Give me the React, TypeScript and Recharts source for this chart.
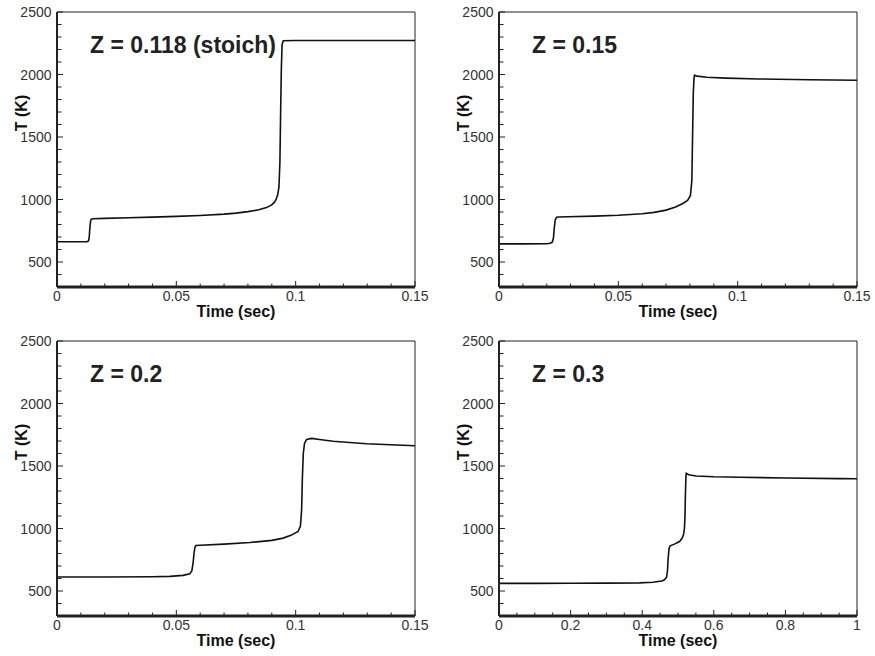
import React from "react";
import { LineChart, Line, XAxis, YAxis, ReferenceLine } from "recharts";

// ---------- Data ----------
const z0118Time = [0, 0.005, 0.01, 0.0125, 0.013, 0.0133, 0.0135, 0.0138, 0.0141, 0.0144, 0.015, 0.02, 0.03, 0.04, 0.05, 0.06, 0.07, 0.075, 0.08, 0.0845, 0.0878, 0.0898, 0.091, 0.0918, 0.0925, 0.093, 0.0934, 0.0937, 0.094, 0.0943, 0.0948, 0.1, 0.15];
const z0118Temp = [662, 662, 662, 663, 666, 675, 700, 780, 830, 843, 846, 849, 854, 859, 865, 872, 883, 891, 903, 918, 935, 955, 975, 1000, 1040, 1100, 1300, 1700, 2050, 2238, 2270, 2272, 2272];

const z015Time = [0, 0.01, 0.02, 0.0215, 0.0223, 0.0228, 0.0232, 0.0236, 0.0242, 0.025, 0.0289, 0.04, 0.05, 0.06, 0.065, 0.07, 0.074, 0.077, 0.079, 0.0802, 0.0808, 0.0811, 0.0814, 0.0817, 0.0819, 0.083, 0.087, 0.0952, 0.109, 0.13, 0.15];
const z015Temp = [645, 645, 646, 650, 658, 690, 780, 840, 858, 860, 862, 867, 874, 886, 897, 915, 940, 968, 993, 1030, 1150, 1500, 1850, 1970, 1993, 1987, 1978, 1971, 1964, 1958, 1954];

const z02Time = [0, 0.02, 0.04, 0.0473, 0.0528, 0.0556, 0.0565, 0.057, 0.0574, 0.0578, 0.0582, 0.06, 0.07, 0.0808, 0.09, 0.0948, 0.098, 0.101, 0.102, 0.1025, 0.1028, 0.1032, 0.1037, 0.1046, 0.1067, 0.11, 0.1157, 0.1297, 0.15];
const z02Temp = [612, 612, 614, 617, 625, 638, 660, 720, 800, 850, 864, 866, 875, 888, 905, 923, 945, 976, 1020, 1150, 1400, 1600, 1680, 1713, 1721, 1712, 1698, 1678, 1662];

const z03Time = [0, 0.1, 0.2, 0.3, 0.3926, 0.43, 0.455, 0.4623, 0.468, 0.4705, 0.4725, 0.475, 0.478, 0.49, 0.5042, 0.511, 0.5153, 0.518, 0.5195, 0.5205, 0.522, 0.523, 0.53, 0.5508, 0.6, 0.6716, 0.8, 0.9506, 1];
const z03Temp = [561, 561, 562, 563, 565, 570, 580, 590, 610, 660, 760, 840, 861, 875, 896, 920, 949, 1000, 1100, 1250, 1400, 1442, 1430, 1420, 1414, 1410, 1404, 1399, 1398];

// ---------- Ticks ----------
const tempTicksAll = [400, 500, 600, 700, 800, 900, 1000, 1100, 1200, 1300, 1400, 1500, 1600, 1700, 1800, 1900, 2000, 2100, 2200, 2300, 2400, 2500];
const tempTicksMajor = [500, 1000, 1500, 2000, 2500];
const tempTickLabels = ["500", "1000", "1500", "2000", "2500"];

const shortTimeTicksAll = [0, 0.01, 0.02, 0.03, 0.04, 0.05, 0.06, 0.07, 0.08, 0.09, 0.1, 0.11, 0.12, 0.13, 0.14, 0.15];
const shortTimeMajor = [0, 0.05, 0.1, 0.15];
const shortTimeLabels = ["0", "0.05", "0.1", "0.15"];

const longTimeTicksAll = [0, 0.05, 0.1, 0.15, 0.2, 0.25, 0.3, 0.35, 0.4, 0.45, 0.5, 0.55, 0.6, 0.65, 0.7, 0.75, 0.8, 0.85, 0.9, 0.95, 1];
const longTimeMajor = [0, 0.2, 0.4, 0.6, 0.8, 1];
const longTimeLabels = ["0", "0.2", "0.4", "0.6", "0.8", "1"];

const panelTitles = ["Z = 0.118 (stoich)", "Z = 0.15", "Z = 0.2", "Z = 0.3"];

const FONT = "'Liberation Sans', Arial, Helvetica, sans-serif";
const W = 440;
const H = 328;

function zip(ts: number[], vs: number[]) {
  return ts.map((t, i) => ({ t, T: vs[i] }));
}

function findMajor(v: number, majors: number[], labels: string[]) {
  for (let i = 0; i < majors.length; i++) {
    if (Math.abs(majors[i] - v) < 1e-9) return labels[i];
  }
  return null;
}

function XTick(props: any) {
  const { x, y, payload, majors, labels } = props;
  const lab = findMajor(payload.value, majors, labels);
  return (
    <g>
      <line x1={x} x2={x} y1={y} y2={y - (lab !== null ? 6 : 3.5)} stroke="#222" strokeWidth={1} />
      {lab !== null && (
        <text x={x} y={y + 13.5} textAnchor="middle" fontSize={14} fontFamily={FONT} fill="#333">
          {lab}
        </text>
      )}
    </g>
  );
}

function YTick(props: any) {
  const { x, y, payload } = props;
  const lab = findMajor(payload.value, tempTicksMajor, tempTickLabels);
  return (
    <g>
      <line x1={x} x2={x + (lab !== null ? 6 : 4.5)} y1={y} y2={y} stroke="#222" strokeWidth={1} />
      {lab !== null && (
        <text x={x - 5.5} y={y + 5} textAnchor="end" fontSize={14} fontFamily={FONT} fill="#333">
          {lab}
        </text>
      )}
    </g>
  );
}

type PanelProps = {
  left: number;
  top: number;
  data: { t: number; T: number }[];
  xMax: number;
  ticksAll: number[];
  majors: number[];
  labels: string[];
  title: string;
};

function Panel({ left, top, data, xMax, ticksAll, majors, labels, title }: PanelProps) {
  return (
    <div style={{ position: "absolute", left, top, width: W, height: H }}>
      <LineChart width={W} height={H} data={data} margin={{ top: 12, right: 25, bottom: 0, left: 0 }}>
        <XAxis
          dataKey="t"
          type="number"
          domain={[0, xMax]}
          ticks={ticksAll}
          interval={0}
          height={41}
          tickSize={0}
          tickMargin={0}
          tickLine={false}
          axisLine={{ stroke: "#222", strokeWidth: 3 }}
          tick={<XTick majors={majors} labels={labels} />}
          allowDataOverflow
        />
        <YAxis
          type="number"
          domain={[300, 2500]}
          ticks={tempTicksAll}
          interval={0}
          width={57}
          tickSize={0}
          tickMargin={0}
          tickLine={false}
          axisLine={{ stroke: "#222", strokeWidth: 2 }}
          tick={<YTick />}
          allowDataOverflow
        />
        <ReferenceLine y={2500} stroke="#222" strokeWidth={1} />
        <ReferenceLine x={xMax} stroke="#222" strokeWidth={1} />
        <Line
          type="linear"
          dataKey="T"
          stroke="#111"
          strokeWidth={1.6}
          dot={false}
          activeDot={false}
          isAnimationActive={false}
        />
      </LineChart>
      <svg
        width={W}
        height={H}
        style={{ position: "absolute", left: 0, top: 0, pointerEvents: "none" }}
      >
        <text
          x={27}
          y={113}
          transform="rotate(-90 27 113)"
          textAnchor="middle"
          fontSize={16}
          fontWeight="bold"
          fontFamily={FONT}
          fill="#111"
        >
          T (K)
        </text>
        <text x={236} y={316.5} textAnchor="middle" fontSize={16} fontWeight="bold" fontFamily={FONT} fill="#111">
          Time (sec)
        </text>
        <text x={90} y={52.5} fontSize={23} fontWeight="bold" fontFamily={FONT} fill="#222">
          {title}
        </text>
      </svg>
    </div>
  );
}

export default function App() {
  return (
    <div style={{ position: "absolute", left: 0, top: 0, width: 875, height: 656, background: "#fff" }}>
      <Panel left={0} top={0} data={zip(z0118Time, z0118Temp)} xMax={0.15} ticksAll={shortTimeTicksAll} majors={shortTimeMajor} labels={shortTimeLabels} title={panelTitles[0]} />
      <Panel left={442} top={0} data={zip(z015Time, z015Temp)} xMax={0.15} ticksAll={shortTimeTicksAll} majors={shortTimeMajor} labels={shortTimeLabels} title={panelTitles[1]} />
      <Panel left={0} top={329} data={zip(z02Time, z02Temp)} xMax={0.15} ticksAll={shortTimeTicksAll} majors={shortTimeMajor} labels={shortTimeLabels} title={panelTitles[2]} />
      <Panel left={442} top={329} data={zip(z03Time, z03Temp)} xMax={1} ticksAll={longTimeTicksAll} majors={longTimeMajor} labels={longTimeLabels} title={panelTitles[3]} />
    </div>
  );
}
